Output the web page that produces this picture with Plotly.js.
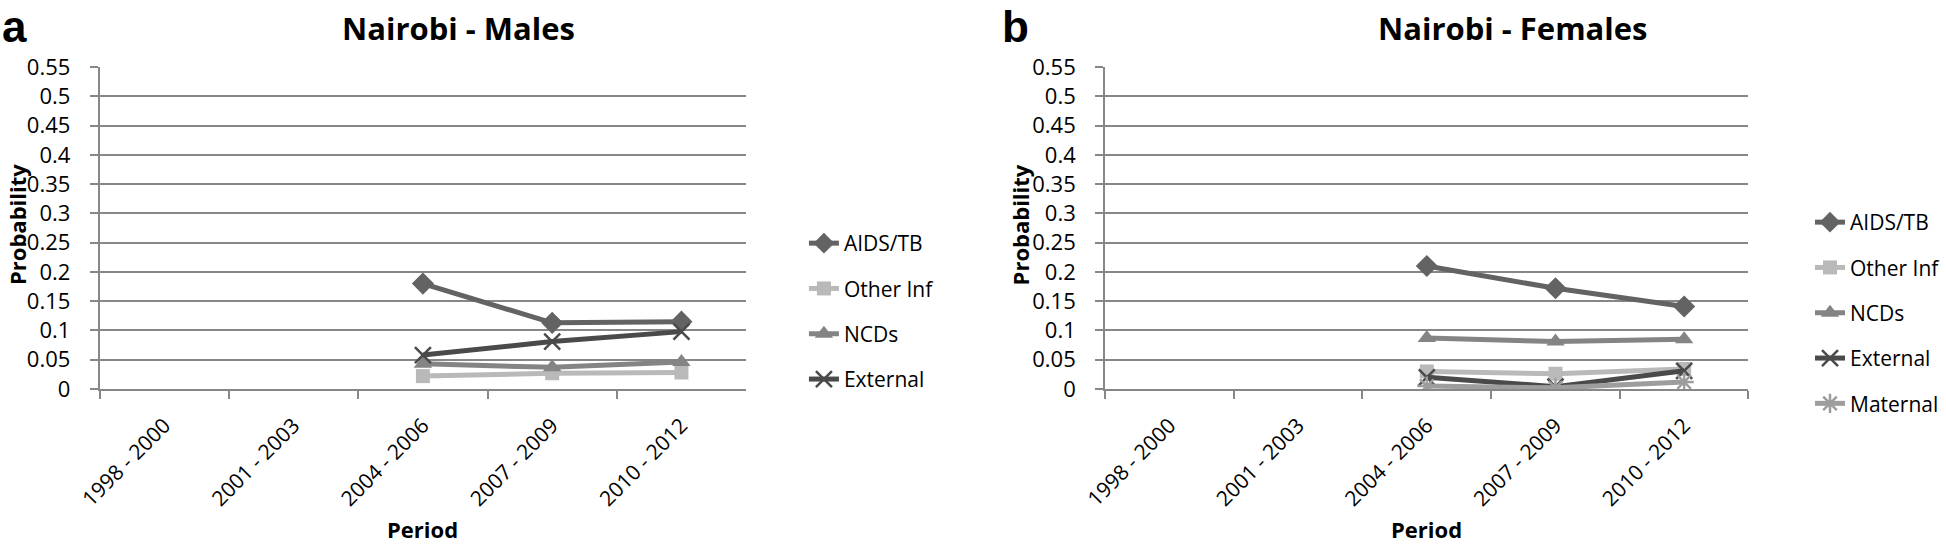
<!DOCTYPE html>
<html>
<head>
<meta charset="utf-8">
<script src="https://cdn.plot.ly/plotly-3.0.1.min.js"></script>
<style>html,body{margin:0;padding:0;background:#fff;}#chart{width:1946px;height:546px;}</style>
</head>
<body>
<div id="chart"></div>
<script>
// ---- Data ----
const periods = ["1998 - 2000", "2001 - 2003", "2004 - 2006", "2007 - 2009", "2010 - 2012"];
const yTickVals = [0, 0.05, 0.1, 0.15, 0.2, 0.25, 0.3, 0.35, 0.4, 0.45, 0.5, 0.55];
const yTickText = ["0", "0.05", "0.1", "0.15", "0.2", "0.25", "0.3", "0.35", "0.4", "0.45", "0.5", "0.55"];

// Panel a: Nairobi - Males
const malesAidsTb   = [null, null, 0.180, 0.113, 0.115];
const malesOtherInf = [null, null, 0.022, 0.027, 0.028];
const malesNcds     = [null, null, 0.043, 0.037, 0.046];
const malesExternal = [null, null, 0.058, 0.081, 0.098];

// Panel b: Nairobi - Females
const femalesAidsTb   = [null, null, 0.210, 0.172, 0.141];
const femalesOtherInf = [null, null, 0.030, 0.026, 0.034];
const femalesNcds     = [null, null, 0.087, 0.081, 0.085];
const femalesExternal = [null, null, 0.020, 0.004, 0.031];
const femalesMaternal = [null, null, 0.005, 0.002, 0.012];

// ---- Styles ----
const FONT = "Open Sans, Lato, sans-serif";
const GRID = "#878787";
const styles = {
  "AIDS/TB":   {color: "#636363", symbol: "diamond", size: 17, open: false},
  "Other Inf": {color: "#b9b9b9", symbol: "square", size: 14, open: false},
  "NCDs":      {color: "#848484", symbol: "triangle-up", size: 16, open: false},
  "External":  {color: "#4a4a4a", symbol: "x-thin-open", size: 16, open: true},
  "Maternal":  {color: "#9d9d9d", symbol: "asterisk-open", size: 16, open: true}
};

function mk(name, vals, xa, ya, legend, grp) {
  const s = styles[name];
  const marker = {symbol: s.symbol, size: s.size, color: s.color};
  if (s.open) marker.line = {color: s.color, width: 2.5};
  return {
    type: "scatter", mode: "lines+markers", name: name,
    x: periods, y: vals, xaxis: xa, yaxis: ya,
    legend: legend, legendgroup: grp,
    line: {color: s.color, width: 5},
    marker: marker, connectgaps: false, hoverinfo: "skip"
  };
}

const traces = [
  mk("AIDS/TB", malesAidsTb, "x", "y", "legend", "a1"),
  mk("Other Inf", malesOtherInf, "x", "y", "legend", "a2"),
  mk("NCDs", malesNcds, "x", "y", "legend", "a3"),
  mk("External", malesExternal, "x", "y", "legend", "a4"),
  mk("AIDS/TB", femalesAidsTb, "x2", "y2", "legend2", "b1"),
  mk("Other Inf", femalesOtherInf, "x2", "y2", "legend2", "b2"),
  mk("NCDs", femalesNcds, "x2", "y2", "legend2", "b3"),
  mk("External", femalesExternal, "x2", "y2", "legend2", "b4"),
  mk("Maternal", femalesMaternal, "x2", "y2", "legend2", "b5")
];

const W = 1946, H = 546;
const px = v => v / W, py = v => 1 - v / H;

function xAxis(d0, d1, anchor) {
  return {
    domain: [px(d0), px(d1)], anchor: anchor, type: "category",
    categoryorder: "array", categoryarray: periods,
    range: [-0.5, periods.length - 0.5], tickson: "boundaries",
    ticks: "outside", ticklen: 8, tickwidth: 2, tickcolor: GRID,
    showline: true, linecolor: GRID, linewidth: 2, showgrid: false,
    tickangle: -45, tickfont: {family: FONT, size: 21, color: "#000"},
    ticklabelstandoff: 14, fixedrange: true, zeroline: false
  };
}
function yAxis(anchor) {
  return {
    domain: [py(389), py(67)], anchor: anchor, range: [0, 0.55],
    tickvals: yTickVals, ticktext: yTickText,
    ticks: "outside", ticklen: 8, tickwidth: 2, tickcolor: GRID,
    showline: true, linecolor: GRID, linewidth: 2,
    showgrid: true, gridcolor: GRID, gridwidth: 2, zeroline: false,
    tickfont: {family: FONT, size: 22, color: "#000"},
    ticklabelstandoff: 15, fixedrange: true
  };
}

const legendBase = {
  font: {family: FONT, size: 21, color: "#000"},
  bgcolor: "rgba(0,0,0,0)", borderwidth: 0,
  xanchor: "left", yanchor: "top", tracegroupgap: 15, itemclick: false, itemdoubleclick: false
};

const ann = (text, x, y, size, opts) => Object.assign({
  text: text, x: px(x), y: py(y), xref: "paper", yref: "paper",
  showarrow: false, font: {family: FONT, size: size, color: "#000", weight: "bold"},
  xanchor: "center", yanchor: "middle"
}, opts || {});

const LETTER_FONT = {family: "Liberation Sans, Arial, sans-serif", size: 44, color: "#000", weight: "bold"};

const layout = {
  width: W, height: H, margin: {l: 0, r: 0, t: 0, b: 0},
  paper_bgcolor: "#fff", plot_bgcolor: "#fff", showlegend: true,
  xaxis: xAxis(100, 748, "y"), yaxis: yAxis("x"),
  xaxis2: xAxis(1108, 1753, "y2"), yaxis2: yAxis("x2"),
  legend: Object.assign({}, legendBase, {x: px(806), y: py(223)}),
  legend2: Object.assign({}, legendBase, {x: px(1815), y: py(202)}),
  annotations: [
    ann("a", 0, 0, 44, {xanchor: "left", yanchor: "top", font: LETTER_FONT}),
    ann("b", 1003, 0, 44, {xanchor: "left", yanchor: "top", font: LETTER_FONT}),
    ann("Nairobi - Males", 460, 28, 31),
    ann("Nairobi - Females", 1517, 28, 31),
    ann("Probability", 0, 225, 22, {textangle: -90, xanchor: "left"}),
    ann("Probability", 1006, 225, 22, {textangle: -90, xanchor: "left"}),
    ann("Period", 424, 546, 22, {yanchor: "bottom"}),
    ann("Period", 1430, 546, 22, {yanchor: "bottom"})
  ]
};

Plotly.newPlot("chart", traces, layout, {staticPlot: true, displayModeBar: false});
</script>
</body>
</html>
